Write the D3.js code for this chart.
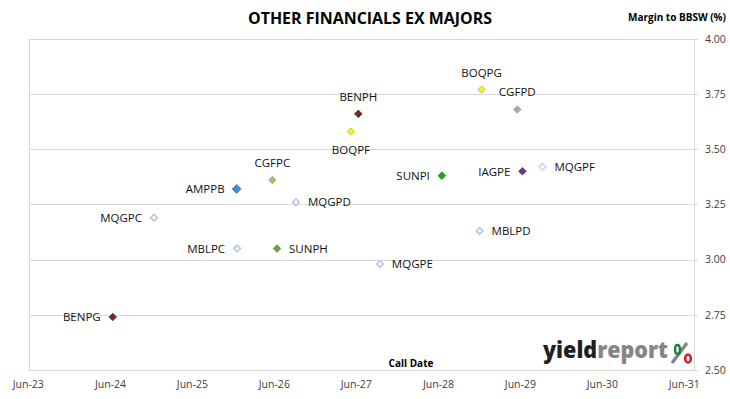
<!DOCTYPE html>
<html>
<head>
<meta charset="utf-8">
<script src="https://cdn.jsdelivr.net/npm/d3@7"></script>
<style>
  html, body { margin: 0; padding: 0; background: #fff; }
  svg { display: block; }
  text { font-family: "Open Sans", sans-serif; }
</style>
</head>
<body>
<svg id="chart" width="730" height="399"></svg>
<script>
// ---- data ----
const securities = ["BENPH","BOQPF","CGFPC","AMPPB","MQGPD","MQGPC","BOQPG","CGFPD",
                    "SUNPI","IAGPE","MQGPF","MBLPD","MBLPC","SUNPH","BENPG","MQGPE"];
const callDates = ["2027-06-10","2027-05-08","2026-05-23","2025-12-15","2026-09-05","2024-12-12",
                   "2028-12-10","2029-05-18","2028-06-16","2029-06-10","2029-09-07","2028-12-01",
                   "2025-12-17","2026-06-13","2024-06-11","2027-09-14"];
const margins = [3.66, 3.58, 3.36, 3.32, 3.26, 3.19, 3.77, 3.68,
                 3.38, 3.40, 3.42, 3.13, 3.05, 3.05, 2.74, 2.98];
const yTicks = [2.50, 2.75, 3.00, 3.25, 3.50, 3.75, 4.00];
const xTickLabels = ["Jun-23","Jun-24","Jun-25","Jun-26","Jun-27","Jun-28","Jun-29","Jun-30","Jun-31"];

// ---- styles (not data) ----
const labelSide = {
  BENPH:"top", BOQPF:"bottom", CGFPC:"top", AMPPB:"left", MQGPD:"right", MQGPC:"left",
  BOQPG:"top", CGFPD:"top", SUNPI:"left", IAGPE:"left", MQGPF:"right", MBLPD:"right",
  MBLPC:"left", SUNPH:"right", BENPG:"left", MQGPE:"right"
};
const markerStyle = {
  BENPH:{fill:"#7b2a2a", stroke:"#5a1e1e"}, BENPG:{fill:"#7b2a2a", stroke:"#5a1e1e"},
  BOQPF:{fill:"#f2f21a", stroke:"#b8b870"}, BOQPG:{fill:"#f2f21a", stroke:"#b8b870"},
  CGFPC:{fill:"#b4b85a", stroke:"#92aac8"}, CGFPD:{fill:"#a4ae94", stroke:"#8ea8c8"},
  AMPPB:{fill:"#4a86d0", stroke:"#4a86d0", big:true},
  SUNPI:{fill:"#1aa81a", stroke:"#128a12"}, SUNPH:{fill:"#6aa040", stroke:"#5a8e36"},
  IAGPE:{fill:"#7030a0", stroke:"#5e2888"},
  MQGPD:{fill:"#fff", stroke:"#b6c8e4"}, MQGPC:{fill:"#fff", stroke:"#b6c8e4"},
  MQGPE:{fill:"#fff", stroke:"#b6c8e4"}, MBLPD:{fill:"#fff", stroke:"#b6c8e4"},
  MBLPC:{fill:"#fff", stroke:"#b6c8e4"}, MQGPF:{fill:"#fff", stroke:"#d2d8ec"}
};

const svg = d3.select("#chart");
const parse = d3.timeParse("%Y-%m-%d");
const plot = {left: 29, right: 694, top: 38.8, bottom: 370};

const x = d3.scaleTime()
  .domain([new Date(2023,5,1), new Date(2031,5,1)])
  .range([28.3, 684.3]);
const y = d3.scaleLinear().domain([2.5, 4.0]).range([plot.bottom, plot.top]);

const grid = "#d9d9d9";

// gridlines
svg.append("g").selectAll("line").data(yTicks).join("line")
  .attr("x1", plot.left).attr("x2", plot.right + 4)
  .attr("y1", d => Math.round(y(d)) + 0.5).attr("y2", d => Math.round(y(d)) + 0.5)
  .attr("stroke", grid).attr("stroke-width", 1);

// frame: left and right
svg.append("line").attr("x1", plot.left + 0.5).attr("x2", plot.left + 0.5)
  .attr("y1", y(4.0)).attr("y2", y(2.5)).attr("stroke", grid);
svg.append("line").attr("x1", plot.right + 0.5).attr("x2", plot.right + 0.5)
  .attr("y1", y(4.0)).attr("y2", y(2.5) + 0.5).attr("stroke", grid);

// y tick labels (right)
svg.append("g").selectAll("text").data(yTicks).join("text")
  .attr("x", 705).attr("y", d => y(d)).attr("dy", "0.36em")
  .attr("font-size", 10.5).attr("fill", "#404040")
  .text(d => d3.format(".2f")(d));

// x tick labels
const xTickDates = xTickLabels.map((s, i) => new Date(2023 + i, 5, 1));
svg.append("g").selectAll("text").data(xTickDates).join("text")
  .attr("x", d => x(d)).attr("y", 388).attr("text-anchor", "middle")
  .attr("font-size", 10.5).attr("fill", "#404040")
  .text((d, i) => xTickLabels[i]);

// titles
svg.append("text").attr("x", 370).attr("y", 24).attr("text-anchor", "middle")
  .attr("font-size", 15.5).attr("font-weight", 700).attr("fill", "#000")
  .attr("textLength", 244).attr("lengthAdjust", "spacingAndGlyphs")
  .text("OTHER FINANCIALS EX MAJORS");
svg.append("text").attr("x", 726).attr("y", 21).attr("text-anchor", "end")
  .attr("font-size", 10).attr("font-weight", 700).attr("fill", "#000")
  .text("Margin to BBSW (%)");
svg.append("text").attr("x", 411).attr("y", 366.5).attr("text-anchor", "middle")
  .attr("font-size", 10).attr("font-weight", 700).attr("fill", "#000")
  .text("Call Date");

// points
const pts = securities.map((n, i) => ({name: n, date: parse(callDates[i]), m: margins[i]}));
const diamond = r => `M0,${-r}L${r},0L0,${r}L${-r},0Z`;

const g = svg.append("g");
g.selectAll("path").data(pts).join("path")
  .attr("transform", d => `translate(${x(d.date)},${y(d.m)})`)
  .attr("d", d => {
    const s = markerStyle[d.name];
    return diamond(s.big ? 4.6 : (s.fill === "#fff" ? 3.3 : 3.8));
  })
  .attr("fill", d => markerStyle[d.name].fill)
  .attr("stroke", d => markerStyle[d.name].stroke)
  .attr("stroke-width", d => markerStyle[d.name].fill === "#fff" ? 1.7 : 0.8);

// labels
g.selectAll("text").data(pts).join("text")
  .attr("font-size", 11.5).attr("fill", "#111")
  .attr("x", d => {
    const px = x(d.date), side = labelSide[d.name];
    if (side === "left") return px - 12;
    if (side === "right") return px + 12;
    return px;
  })
  .attr("y", d => {
    const py = y(d.m), side = labelSide[d.name];
    if (side === "top") return py - 13;
    if (side === "bottom") return py + 22;
    return py + 4.3;
  })
  .attr("text-anchor", d => {
    const side = labelSide[d.name];
    return side === "left" ? "end" : side === "right" ? "start" : "middle";
  })
  .text(d => d.name);

// logo
const logo = svg.append("g");
const lt = logo.append("text").attr("x", 543).attr("y", 358)
  .attr("font-size", 22).attr("font-weight", 800)
  .attr("textLength", 125).attr("lengthAdjust", "spacingAndGlyphs");
lt.append("tspan").attr("fill", "#231f20").text("yield");
lt.append("tspan").attr("fill", "#858585").text("report");
logo.append("line").attr("x1", 672).attr("y1", 363).attr("x2", 687).attr("y2", 343)
  .attr("stroke", "#858585").attr("stroke-width", 3.5);
logo.append("ellipse").attr("cx", 677.5).attr("cy", 349.5).attr("rx", 2.4).attr("ry", 4.5)
  .attr("fill", "#fff").attr("stroke", "#1c7a3c").attr("stroke-width", 2.4);
logo.append("ellipse").attr("cx", 688).attr("cy", 358.5).attr("rx", 2.8).attr("ry", 4)
  .attr("fill", "#fff").attr("stroke", "#d21f2b").attr("stroke-width", 2.6);
</script>
</body>
</html>
